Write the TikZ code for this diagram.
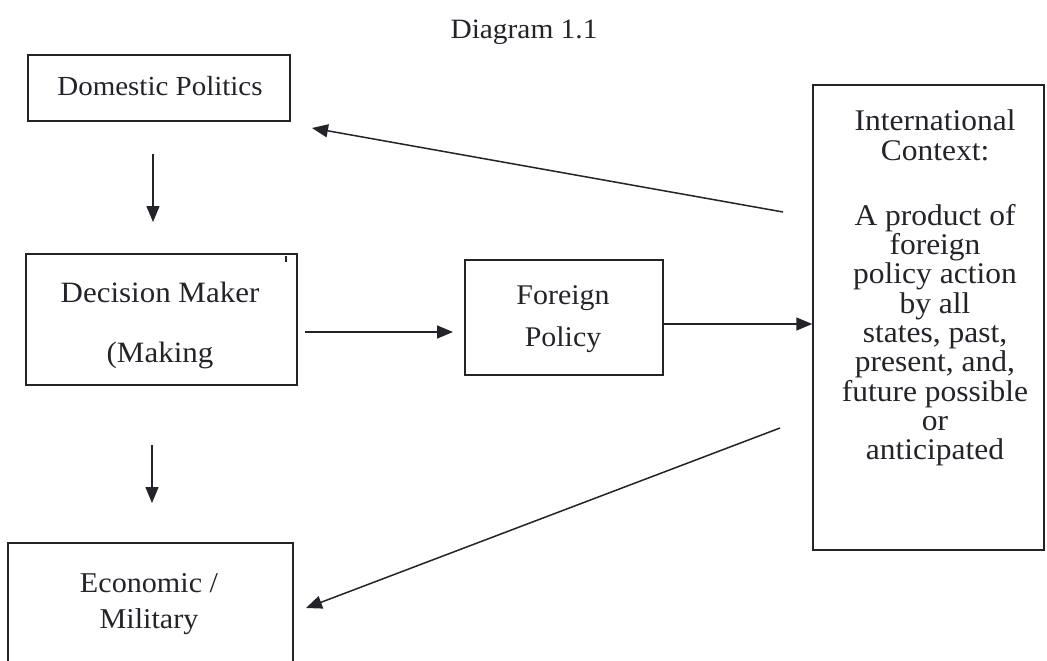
\documentclass[tikz,border=0pt]{standalone}
\usepackage{fontspec}
\setmainfont{Liberation Serif}[FakeStretch=1.05]
\usetikzlibrary{arrows.meta}
\definecolor{ink}{RGB}{35,35,42}
\begin{document}
\begin{tikzpicture}[x=1pt,y=-1pt,
  box/.style={draw=ink, line width=1.5pt, inner sep=0pt},
  lbl/.style={align=center, inner sep=0pt, text=ink},
  conn/.style={draw=ink, line width=1.5pt, -{Triangle[length=16pt,width=13pt]}}]
\useasboundingbox (0,0) rectangle (1047,661);
\clip (0,0) rectangle (1047,661);

% boxes
\node[box, minimum width=262pt, minimum height=66pt]  (dom) at (159,88) {};
\node[box, minimum width=271pt, minimum height=131pt] (dec) at (161.5,319.5) {};
\node[box, minimum width=285pt, minimum height=157pt] (eco) at (150.5,621.5) {};
\node[box, minimum width=198pt, minimum height=115pt] (fp)  at (564,317.5) {};
\node[box, minimum width=231pt, minimum height=465pt] (ic)  at (928.5,317.5) {};

% texts
\node[lbl, font=\fontsize{28}{29}\selectfont] (title) at (524,32) {Diagram 1.1};
\node[lbl, font=\fontsize{27.6}{29}\selectfont] (domt) at (160,86) {Domestic Politics};
\node[lbl, font={\fontsize{29.5}{29}\selectfont\lineskiplimit=-100pt\lineskip=0pt}] (dect) at (160,325) {Decision Maker\\[31pt](Making};
\node[lbl, font={\fontsize{28.5}{29}\selectfont\lineskiplimit=-100pt\lineskip=0pt}] (fpt) at (563,319) {Foreign\\[13pt]Policy};
\node[lbl, font={\fontsize{28.7}{29}\selectfont\lineskiplimit=-100pt\lineskip=0pt}] (ecot) at (149,604) {Economic /\\[7pt]Military};
\node[lbl, font={\fontsize{30}{29.3}\selectfont\lineskiplimit=-100pt\lineskip=0pt}] (ict) at (935,288) {International\\Context:\\[36pt]A product of\\foreign\\policy action\\by all\\states, past,\\present, and,\\future possible\\or\\anticipated};

% small tick mark in decision box
\draw[ink, line width=1.2pt] (286,256) -- (286,262);

% connector end points
\coordinate (a1s) at (153,154); \coordinate (a1e) at (153,222);
\coordinate (a2s) at (152,445); \coordinate (a2e) at (152,503);
\coordinate (a3s) at (305,332); \coordinate (a3e) at (453,332);
\coordinate (a5s) at (783,212); \coordinate (a5e) at (312,128);
\coordinate (a6s) at (780,428); \coordinate (a6e) at (306,608);

% connectors
\draw[conn] (a1s) -- (a1e);
\draw[conn] (a2s) -- (a2e);
\draw[conn] (a3s) -- (a3e);
\draw[conn] ([yshift=-6.5pt]fp.east) -- ([yshift=-6.5pt]fp.east -| ic.west);
\draw[conn] (a5s) -- (a5e);
\draw[conn] (a6s) -- (a6e);
\end{tikzpicture}
\end{document}
